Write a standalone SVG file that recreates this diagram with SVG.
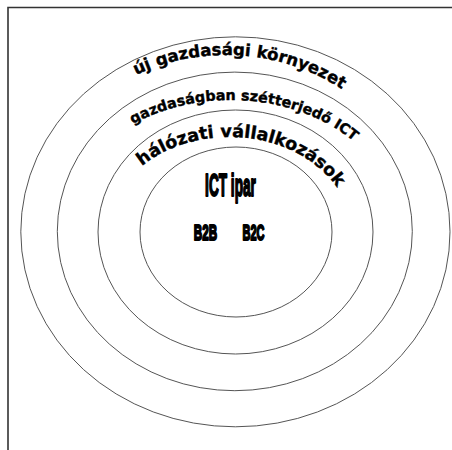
<svg xmlns="http://www.w3.org/2000/svg" xmlns:xlink="http://www.w3.org/1999/xlink" width="452" height="450" viewBox="0 0 452 450">
<style>
.ring{fill:none;stroke:#555;stroke-width:1}
.arc{font-family:"DejaVu Sans","Verdana",sans-serif;font-weight:bold;fill:#000;stroke:#000;stroke-width:0.4}
.cond{font-family:"Liberation Sans",Arial,sans-serif;font-weight:bold;fill:#000;stroke:#000;stroke-linejoin:round}
</style>
<defs>
<path id="p1" d="M 136.04 75.0 A 195.5 177 0 0 1 395.61 320.5"/>
<path id="p2" d="M 133.04 124.01 A 169.5 132 0 0 1 377.29 298"/>
<path id="p3" d="M 142.0 166.0 A 121.5 95 0 0 1 334.62 279.5"/>
</defs>
<rect width="452" height="450" fill="#fff"/>
<g id="frame"><path d="M 8 450 V 7.5 H 452" fill="none" stroke="#333" stroke-width="1.6"/></g>
<g id="ring1"><ellipse class="ring" cx="235.4" cy="231.8" rx="214.6" ry="195"/>
<text class="arc" font-size="16.5"><textPath xlink:href="#p1" href="#p1">új gazdasági környezet</textPath></text></g>
<g id="ring2"><ellipse class="ring" cx="234.8" cy="231.4" rx="177.5" ry="159.3"/>
<text class="arc" font-size="14.3"><textPath xlink:href="#p2" href="#p2">gazdaságban szétterjedő ICT</textPath></text></g>
<g id="ring3"><ellipse class="ring" cx="235.5" cy="232" rx="137.5" ry="122"/>
<text class="arc" font-size="17.5"><textPath xlink:href="#p3" href="#p3">hálózati vállalkozások</textPath></text></g>
<g id="ring4"><ellipse class="ring" cx="236" cy="232" rx="96" ry="85"/>
<text class="cond" font-size="31" stroke-width="2" text-anchor="middle" transform="translate(230.5,196) scale(0.44,1)">ICT ipar</text>
<text class="cond" font-size="22" stroke-width="2" text-anchor="middle" transform="translate(205.5,239.5) scale(0.53,1)">B2B</text>
<text class="cond" font-size="22" stroke-width="2" text-anchor="middle" transform="translate(253.5,239.5) scale(0.5,1)">B2C</text>
</g>
</svg>
